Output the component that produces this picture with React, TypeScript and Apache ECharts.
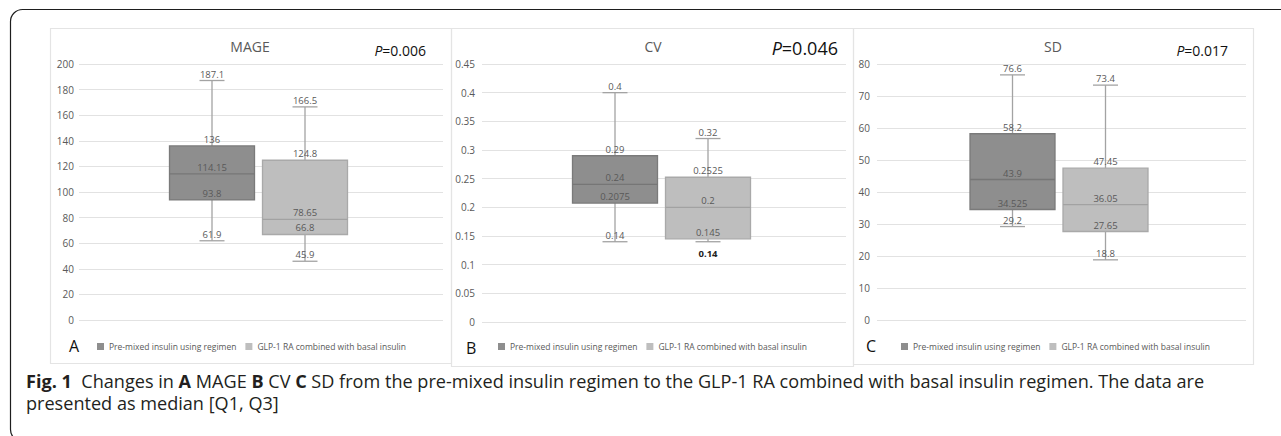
import React, { useEffect, useRef } from "react";
import * as echarts from "echarts";

// ---------- data ----------
const seriesNames = ["Pre-mixed insulin using regimen", "GLP-1 RA combined with basal insulin"];
const panelTitles = ["MAGE", "CV", "SD"];
const panelLetters = ["A", "B", "C"];
const pValues = ["0.006", "0.046", "0.017"];

// each box: [min, Q1, median, Q3, max]
const mageValues = [
  [61.9, 93.8, 114.15, 136, 187.1],
  [45.9, 66.8, 78.65, 124.8, 166.5],
];
const cvValues = [
  [0.14, 0.2075, 0.24, 0.29, 0.4],
  [0.14, 0.145, 0.2, 0.2525, 0.32],
];
const sdValues = [
  [29.2, 34.525, 43.9, 58.2, 76.6],
  [18.8, 27.65, 36.05, 47.45, 73.4],
];
const yMaxList = [200, 0.45, 80];
const yIntervalList = [20, 0.05, 10];

const captionLine1 =
  "{b|Fig. 1}  Changes in {b|A} MAGE {b|B} CV {b|C} SD from the pre-mixed insulin regimen to the GLP-1 RA combined with basal insulin regimen. The data are";
const captionLine2 = "presented as median [Q1, Q3]";

// ---------- layout / style ----------
const FONT = "'Open Sans', 'Noto Sans', sans-serif";
const LABEL_GRAY = "#595959";
const WHISKER = "#a3a3a3";
const GRID_LINE = "#e2e2e2";
const BOX_FILL = ["#8e8e8e", "#bebebe"];
const BOX_STROKE = ["#7a7a7a", "#a9a9a9"];
const MEDIAN = ["#767676", "#a2a2a2"];
const BOX_HALF = 42.5;
const BOX_SPACING = 46.5;
const GROUP_SHIFT = -2.5;
const CAP_HALF = 12.5;
const CAPTION_SIZE = 18.1;

const grids = [
  { left: 79, top: 64, width: 364, height: 256 },
  { left: 482, top: 64, width: 364, height: 258 },
  { left: 877, top: 64, width: 369, height: 256 },
];
const frames = [
  { x: 50, y: 28, w: 401, h: 335 },
  { x: 451, y: 28, w: 402, h: 338 },
  { x: 853, y: 28, w: 400, h: 336 },
];

function makeRenderItem(slot: number) {
  return (_params: any, api: any) => {
    const cat = api.value(0);
    const vals = [1, 2, 3, 4, 5].map((i) => api.value(i) as number);
    const base = api.coord([cat, 0]);
    const xc = base[0] + GROUP_SHIFT + (slot === 0 ? -BOX_SPACING : BOX_SPACING);
    const ys = vals.map((v) => api.coord([cat, v])[1]);
    const [yMin, yQ1, yMed, yQ3, yMax] = ys;
    const ls = { stroke: WHISKER, lineWidth: 1.3 };
    const children: any[] = [
      { type: "line", shape: { x1: xc, y1: yQ3, x2: xc, y2: yMax }, style: ls },
      { type: "line", shape: { x1: xc, y1: yQ1, x2: xc, y2: yMin }, style: ls },
      { type: "line", shape: { x1: xc - CAP_HALF, y1: yMax, x2: xc + CAP_HALF, y2: yMax }, style: ls },
      { type: "line", shape: { x1: xc - CAP_HALF, y1: yMin, x2: xc + CAP_HALF, y2: yMin }, style: ls },
      {
        type: "rect",
        shape: { x: xc - BOX_HALF, y: yQ3, width: BOX_HALF * 2, height: yQ1 - yQ3 },
        style: { fill: BOX_FILL[slot], stroke: BOX_STROKE[slot], lineWidth: 1.3 },
      },
      {
        type: "line",
        shape: { x1: xc - BOX_HALF, y1: yMed, x2: xc + BOX_HALF, y2: yMed },
        style: { stroke: MEDIAN[slot], lineWidth: 1.3 },
      },
    ];
    vals.forEach((v, i) => {
      const crowded = i === 0 && Math.abs(ys[0] - ys[1]) < 11;
      children.push({
        type: "text",
        x: xc,
        y: crowded ? ys[i] + 7 : ys[i] - 1.5,
        style: {
          text: String(v),
          fill: crowded ? "#222222" : LABEL_GRAY,
          font: `${crowded ? "bold " : ""}9.5px ${FONT}`,
          textAlign: "center",
          textVerticalAlign: crowded ? "top" : "bottom",
        },
      });
    });
    return { type: "group", children };
  };
}

export default function App() {
  const ref = useRef<HTMLDivElement>(null);

  useEffect(() => {
    if (!ref.current) return;
    const chart = echarts.init(ref.current, undefined, { renderer: "svg" });
    const panelData = [mageValues, cvValues, sdValues];

    const series: any[] = [];
    panelData.forEach((boxes, p) => {
      boxes.forEach((b, s) => {
        series.push({
          type: "custom",
          name: seriesNames[s],
          xAxisIndex: p,
          yAxisIndex: p,
          itemStyle: { color: BOX_FILL[s] },
          renderItem: makeRenderItem(s),
          encode: { x: 0, y: [1, 2, 3, 4, 5] },
          data: [[0, ...b]],
          silent: true,
        });
      });
    });

    const legendLefts = [92, 493, 896];
    const letterPos = [
      { x: 69, y: 346 },
      { x: 466, y: 348 },
      { x: 866, y: 346 },
    ];
    const titleX = [250, 653, 1053];
    const pPos = [
      { x: 426, y: 50, size: 14 },
      { x: 838, y: 48, size: 18 },
      { x: 1228, y: 50, size: 14 },
    ];

    const graphic: any[] = [
      {
        type: "rect",
        shape: { x: 10.5, y: 9.5, width: 1300, height: 432, r: 12 },
        style: { fill: "none", stroke: "#1e1e1e", lineWidth: 1.2 },
        silent: true,
      },
    ];
    frames.forEach((f) => {
      graphic.push({
        type: "rect",
        shape: { x: f.x + 0.5, y: f.y + 0.5, width: f.w, height: f.h },
        style: { fill: "none", stroke: "#e4e4e4", lineWidth: 1.2 },
        silent: true,
      });
    });
    panelTitles.forEach((t, i) => {
      graphic.push({
        type: "text",
        x: titleX[i],
        y: 46,
        style: { text: t, font: `14px ${FONT}`, fill: LABEL_GRAY, textAlign: "center", textVerticalAlign: "middle" },
      });
      graphic.push({
        type: "text",
        x: pPos[i].x,
        y: pPos[i].y,
        style: {
          text: `{i|P}=${pValues[i]}`,
          font: `${pPos[i].size}px ${FONT}`,
          fill: "#111111",
          textAlign: "right",
          textVerticalAlign: "middle",
          rich: {
            i: { fontStyle: "italic", fontSize: pPos[i].size, fontFamily: FONT, fill: "#111111" },
          },
        },
      });
      graphic.push({
        type: "text",
        x: letterPos[i].x,
        y: letterPos[i].y,
        style: { text: panelLetters[i], font: `16px ${FONT}`, fill: "#111111", textAlign: "left", textVerticalAlign: "middle" },
      });
    });
    graphic.push({
      type: "text",
      x: 26,
      y: 381,
      style: {
        text: captionLine1,
        font: `${CAPTION_SIZE}px ${FONT}`,
        fill: "#231f20",
        lineHeight: 19,
        textVerticalAlign: "middle",
        rich: {
          b: { fontWeight: "bold", fontSize: CAPTION_SIZE, fontFamily: FONT, fill: "#231f20", lineHeight: 19 },
        },
      },
    });
    graphic.push({
      type: "text",
      x: 26,
      y: 403,
      style: {
        text: captionLine2,
        font: `${CAPTION_SIZE}px ${FONT}`,
        fill: "#231f20",
        lineHeight: 19,
        textVerticalAlign: "middle",
      },
    });

    chart.setOption({
      animation: false,
      backgroundColor: "#ffffff",
      grid: grids.map((g) => ({ ...g, containLabel: false })),
      xAxis: grids.map((_, i) => ({
        type: "category",
        gridIndex: i,
        data: [panelTitles[i]],
        show: false,
      })),
      yAxis: grids.map((_, i) => ({
        type: "value",
        gridIndex: i,
        min: 0,
        max: yMaxList[i],
        interval: yIntervalList[i],
        axisLine: { show: false },
        axisTick: { show: false },
        axisLabel: { color: LABEL_GRAY, fontSize: 10, fontFamily: FONT, margin: i === 0 ? 5 : 7 },
        splitLine: { lineStyle: { color: GRID_LINE, width: 1 } },
      })),
      legend: legendLefts.map((l) => ({
        data: seriesNames,
        left: l,
        top: 337,
        icon: "rect",
        itemWidth: 7,
        itemHeight: 7,
        itemGap: 9,
        selectedMode: false,
        textStyle: { fontSize: 8.5, color: LABEL_GRAY, fontFamily: FONT },
      })),
      graphic,
      series,
    });

    return () => chart.dispose();
  }, []);

  return (
    <div
      ref={ref}
      style={{ position: "absolute", left: 0, top: 0, width: 1281, height: 436, background: "#fff" }}
    />
  );
}
